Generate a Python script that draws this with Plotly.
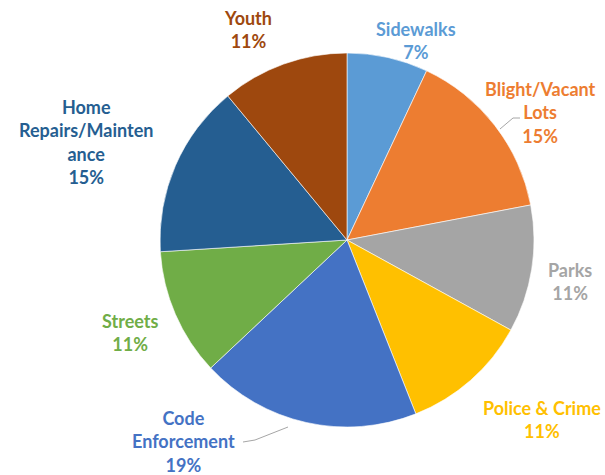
import plotly.graph_objects as go

categories = ["Sidewalks", "Blight/Vacant Lots", "Parks", "Police & Crime",
              "Code Enforcement", "Streets", "Home Repairs/Maintenance", "Youth"]
values = [7, 15, 11, 11, 19, 11, 15, 11]
label_text = ["Sidewalks", "Blight/Vacant<br>Lots", "Parks", "Police & Crime",
              "Code<br>Enforcement", "Streets", "Home<br>Repairs/Mainten<br>ance", "Youth"]

# styles / layout (not data)
colors = ["#5B9BD5", "#ED7D31", "#A5A5A5", "#FFC000",
          "#4472C4", "#70AD47", "#255E91", "#9E480E"]
label_px = [(416, 40), (540, 112), (570, 281), (542, 419),
            (183, 441), (130, 332), (86, 142), (248, 30)]

W, H = 605, 475
cx, cy, r = 347, 240, 187

fig = go.Figure(go.Pie(
    labels=categories,
    values=values,
    sort=False,
    direction="clockwise",
    rotation=0,
    marker=dict(colors=colors, line=dict(color="white", width=0.6)),
    textinfo="none",
    hoverinfo="label+percent",
    showlegend=False,
    domain=dict(x=[(cx - r) / W, (cx + r) / W], y=[1 - (cy + r) / H, 1 - (cy - r) / H]),
))

total = sum(values)
for txt, v, col, (px, py) in zip(label_text, values, colors, label_px):
    fig.add_annotation(
        x=px / W, y=1 - py / H, xref="paper", yref="paper",
        xanchor="center", yanchor="middle", showarrow=False,
        text=f"{txt}<br>{round(100 * v / total)}%",
        font=dict(family="Lato", size=18, color=col, weight="bold"),
        align="center",
    )

# leader lines
def seg(pts):
    path = "M " + " L ".join(f"{x / W},{1 - y / H}" for x, y in pts)
    fig.add_shape(type="path", path=path, xref="paper", yref="paper",
                  line=dict(color="#A6A6A6", width=1))

seg([(243, 442), (255, 440), (288, 427)])
seg([(520, 118), (513, 118), (500, 129)])

fig.update_layout(
    width=W, height=H,
    margin=dict(l=0, r=0, t=0, b=0),
    paper_bgcolor="white",
)
fig.write_html("out.html")
